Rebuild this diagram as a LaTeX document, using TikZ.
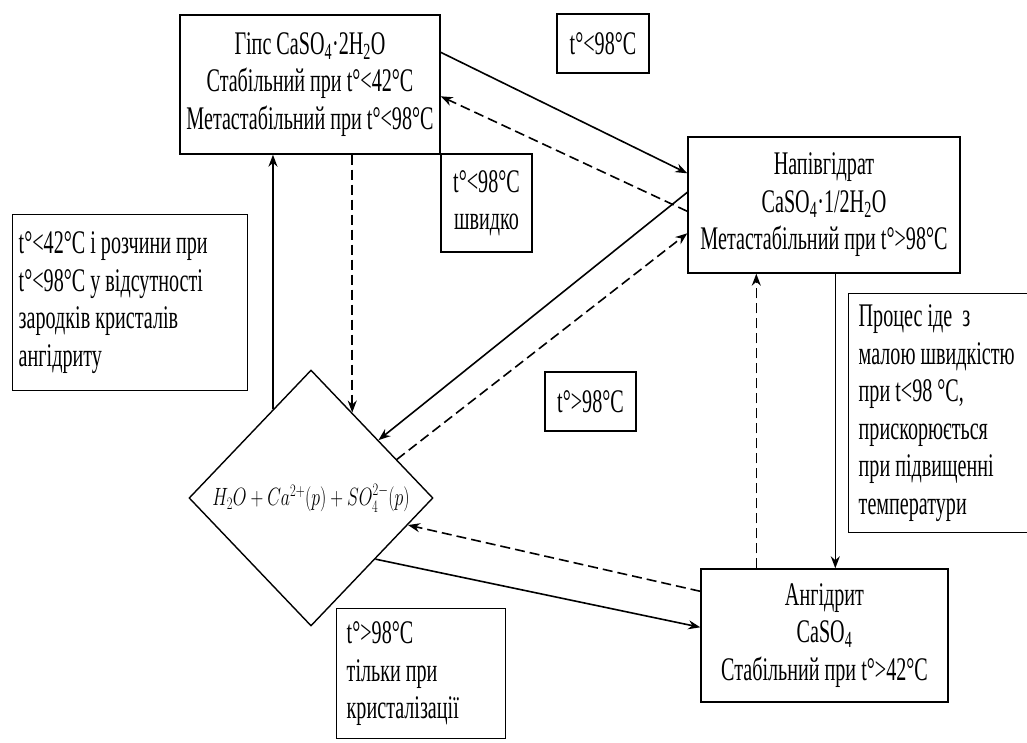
\RequirePackage{fix-cm}
\documentclass[tikz,border=0pt]{standalone}
\usepackage{amsmath}
\usepackage{graphicx}
\usepackage{fontspec}
\setmainfont{Liberation Serif}[FakeStretch=0.61]
\usepackage{tikz}
\usetikzlibrary{shapes.geometric, arrows.meta, positioning}
\usetikzlibrary{calc}

\begin{document}
\begin{tikzpicture}[x=1pt, y=-1pt,
    font=\fontsize{33}{37.5}\selectfont,
    statebox/.style={draw, line width=1.4pt, align=center, inner sep=2pt},
    notebox/.style={draw, line width=1.4pt, align=flush left, inner xsep=6pt, inner ysep=4pt},
    solidarr/.style={line width=1.6pt, -{Stealth[length=12pt, width=9pt]}},
    dasharr/.style={solidarr, dash pattern=on 10pt off 5pt}]
    \useasboundingbox (0,0) rectangle (1027,743);
    \clip (0,0) rectangle (1027,743);

    % Phase boxes
    \node[statebox, minimum width=260pt, minimum height=139pt] (gyps) at (310,84.5)
        {Гіпс CaSO\textsubscript{4}·2H\textsubscript{2}O\\ Стабільний при t°<42°C\\ Метастабільний при t°<98°C};
    \node[statebox, minimum width=272pt, minimum height=136pt] (hemi) at (824,205)
        {Напівгідрат\\ CaSO\textsubscript{4}·1/2H\textsubscript{2}O\\ Метастабільний при t°>98°C};
    \node[statebox, minimum width=247pt, minimum height=133pt] (anh) at (824.5,635.5)
        {Ангідрит\\ CaSO\textsubscript{4}\\ Стабільний при t°>42°C};

    % Solution in the middle
    \node[draw, shape=diamond, line width=1.4pt, minimum width=244pt, minimum height=256pt, inner sep=0pt] (diam) at (311,498)
        {\fontsize{25}{29}\selectfont\scalebox{0.71}[1]{$H_2O+Ca^{2+}(p)+SO_4^{2-}(p)$}};

    % Condition notes
    \node[statebox, minimum width=92pt, minimum height=59pt] (tlow) at (603,43.5) {t°<98°C};
    \node[statebox, minimum width=91pt, minimum height=98pt] (fast) at (486.5,203) {t°<98°C\\ швидко};
    \node[statebox, minimum width=91pt, minimum height=59pt] (thigh) at (590.5,401.5) {t°>98°C};
    \node[notebox, text width=223pt, minimum height=176pt, anchor=north west] (cond) at (12,214)
        {t°<42°C і розчини при\\ t°<98°C у відсутності\\ зародків кристалів\\ ангідриту};
    \node[notebox, text width=180pt, inner xsep=10pt, minimum height=239pt, anchor=north west] (proc) at (848,293)
        {Процес іде\ \ з\\ малою швидкістю\\ при t<98 °C,\\ прискорюється\\ при підвищенні\\ температури};
    \node[notebox, text width=149pt, inner xsep=10pt, inner ysep=13pt, anchor=north west] (cryst) at (336,608)
        {t°>98°C\\ тільки при\\ кристалізації};

    % Points on the diamond
    \coordinate (d5) at ($(diam.north)!0.336!(diam.east)$);
    \coordinate (d6) at ($(diam.north)!0.31!(diam.west)$);
    \coordinate (h9) at ($(hemi.south west)+(148,0)$);
    \coordinate (a10) at ($(anh.north west)+(56,0)$);

    % Gypsum <-> hemihydrate
    \draw[solidarr] ($(gyps.north east)+(0,38)$) -- ($(hemi.north west)+(0,37)$);
    \draw[dasharr] ($(hemi.north west)+(0,75)$) -- ($(gyps.north east)+(0,82)$);

    % Hemihydrate <-> solution
    \draw[solidarr] ($(hemi.north west)+(0,56)$) -- ($(diam.north)!0.55!(diam.east)$);
    \draw[dasharr] ($(diam.north)!0.70!(diam.east)$) -- ($(hemi.north west)+(0,97)$);

    % Gypsum <-> solution
    \draw[dasharr] (d5 |- gyps.south) -- (d5);
    \draw[solidarr] (d6) -- (d6 |- gyps.south);

    % Anhydrite <-> solution
    \draw[dasharr] ($(anh.north west)+(0,23)$) -- ($(diam.east)!0.21!(diam.south)$);
    \draw[solidarr] ($(diam.east)!0.475!(diam.south)$) -- ($(anh.north west)+(0,59)$);

    % Hemihydrate <-> anhydrite
    \draw[solidarr] (h9) -- (h9 |- anh.north);
    \draw[dasharr] (a10) -- (a10 |- hemi.south);
\end{tikzpicture}
\end{document}
